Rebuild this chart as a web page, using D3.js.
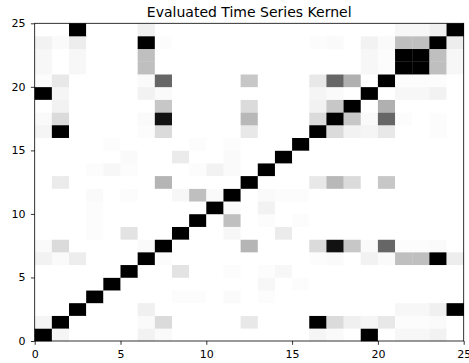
<!DOCTYPE html>
<html>
<head>
<meta charset="utf-8">
<script src="https://cdn.jsdelivr.net/npm/d3@7"></script>
<style>
  html, body { margin: 0; padding: 0; background: #fff; }
  svg { display: block; }
  text { font-family: "DejaVu Sans", sans-serif; fill: #000; }
</style>
</head>
<body>
<svg id="chart" width="469" height="363"></svg>
<script>
// Kernel matrix: kernelRows[i][j] is the kernel value between series i and j.
// Row index i runs along the y axis (0 at the bottom), column j along x.
const kernelRows = [
  /* 0 */ [1,0.04,0,0,0,0,0.05,0.02,0,0,0,0,0,0,0,0,0.04,0.02,0,1,0,0.03,0.03,0.05,0],
  /* 1 */ [0.04,1,0,0,0,0,0.02,0.14,0,0,0,0,0.09,0,0,0,1,0.14,0.06,0.04,0.09,0.01,0.01,0.02,0],
  /* 2 */ [0,0,1,0,0,0,0.06,0,0,0,0,0,0,0,0,0,0,0,0,0,0,0.03,0.03,0.06,1],
  /* 3 */ [0,0,0,1,0,0,0,0,0.01,0.01,0,0.02,0,0.01,0,0,0,0,0,0,0,0,0,0,0],
  /* 4 */ [0,0,0,0,1,0,0,0,0,0,0,0,0,0.03,0,0.01,0,0,0,0,0,0,0,0,0],
  /* 5 */ [0,0,0,0,0,1,0,0,0.11,0,0,0.01,0,0.01,0.03,0,0,0,0,0,0,0,0,0,0],
  /* 6 */ [0.05,0.02,0.07,0,0,0,1,0.01,0,0,0,0,0,0,0,0,0.01,0.02,0,0.05,0.02,0.25,0.25,1,0.07],
  /* 7 */ [0.02,0.14,0,0,0,0,0.02,1,0,0,0,0,0.29,0,0,0,0.14,0.93,0.22,0.02,0.6,0.01,0.01,0.02,0],
  /* 8 */ [0,0,0,0.01,0,0.11,0,0,1,0,0,0.03,0,0,0.08,0,0,0,0,0,0,0,0,0,0],
  /* 9 */ [0,0,0,0.01,0,0,0,0,0,1,0,0.25,0,0.01,0,0.01,0,0,0,0,0,0,0,0,0],
  /*10 */ [0,0,0,0.01,0,0,0,0,0,0,1,0.02,0,0.05,0,0,0,0,0,0,0,0,0,0,0],
  /*11 */ [0,0,0,0.02,0,0.01,0,0,0.03,0.25,0.02,1,0,0.02,0.01,0.01,0,0,0,0,0,0,0,0,0],
  /*12 */ [0,0.08,0,0,0,0,0,0.29,0,0,0,0,1,0,0,0,0.09,0.28,0.14,0,0.22,0,0,0,0],
  /*13 */ [0,0,0,0.01,0.03,0.01,0,0,0,0.01,0.05,0.02,0,1,0,0,0,0,0,0,0,0,0,0,0],
  /*14 */ [0,0,0,0,0,0.02,0,0,0.08,0,0,0.02,0,0,1,0,0,0,0,0,0,0,0,0,0],
  /*15 */ [0,0,0,0,0.01,0,0,0,0,0.01,0,0.01,0,0,0,1,0,0,0,0,0,0,0,0,0],
  /*16 */ [0.04,1,0,0,0,0,0.01,0.14,0,0,0,0,0.09,0,0,0,1,0.14,0.05,0.04,0.09,0,0,0.01,0],
  /*17 */ [0.02,0.14,0,0,0,0,0.02,0.93,0,0,0,0,0.28,0,0,0,0.14,1,0.22,0.02,0.6,0.01,0,0.01,0],
  /*18 */ [0,0.05,0,0,0,0,0,0.22,0,0,0,0,0.14,0,0,0,0.05,0.22,1,0,0.31,0,0,0,0],
  /*19 */ [1,0.04,0,0,0,0,0.05,0.02,0,0,0,0,0,0,0,0,0.04,0.02,0,1,0,0.03,0.03,0.05,0],
  /*20 */ [0.01,0.09,0,0,0,0,0.02,0.6,0,0,0,0,0.22,0,0,0,0.09,0.6,0.31,0,1,0.01,0.01,0.01,0],
  /*21 */ [0.03,0,0.03,0,0,0,0.25,0,0,0,0,0,0,0,0,0,0,0,0,0.03,0.01,1,1,0.25,0.03],
  /*22 */ [0.03,0,0.03,0,0,0,0.25,0,0,0,0,0,0,0,0,0,0,0,0,0.03,0.01,1,1,0.25,0.03],
  /*23 */ [0.05,0.02,0.07,0,0,0,1,0.01,0,0,0,0,0,0,0,0,0.01,0.02,0,0.05,0.02,0.25,0.25,1,0.07],
  /*24 */ [0,0,1,0,0,0,0.06,0,0,0,0,0,0,0,0,0,0,0,0,0,0,0.03,0.03,0.06,1]
];

const xTicks = [0, 5, 10, 15, 20, 25];
const yTicks = [0, 5, 10, 15, 20, 25];
const chartTitle = "Evaluated Time Series Kernel";

const svg = d3.select("#chart");
const margin = { left: 34.7, right: 5.3, top: 23.3, bottom: 22 };
const W = 469, H = 363;

const n = kernelRows.length;
const x = d3.scaleLinear().domain([0, n]).range([margin.left, W - margin.right]);
const y = d3.scaleLinear().domain([0, n]).range([H - margin.bottom, margin.top]);
const color = d3.scaleLinear().domain([0, 1]).range(["#ffffff", "#000000"]).clamp(true);

const cells = [];
kernelRows.forEach((row, i) => row.forEach((v, j) => cells.push({ i, j, v })));

svg.append("g")
  .selectAll("rect")
  .data(cells)
  .join("rect")
  .attr("x", d => x(d.j))
  .attr("y", d => y(d.i + 1))
  .attr("width", d => x(d.j + 1) - x(d.j) + 0.3)
  .attr("height", d => y(d.i) - y(d.i + 1) + 0.3)
  .attr("fill", d => color(d.v));

// Frame around the image
svg.append("rect")
  .attr("x", x(0)).attr("y", y(n))
  .attr("width", x(n) - x(0)).attr("height", y(0) - y(n))
  .attr("fill", "none").attr("stroke", "#000").attr("stroke-width", 0.8);

const xAxis = svg.append("g")
  .attr("transform", `translate(0,${y(0)})`)
  .call(d3.axisBottom(x).tickValues(xTicks).tickFormat(d3.format("d")).tickSize(3.8).tickPadding(5));
const yAxis = svg.append("g")
  .attr("transform", `translate(${x(0)},0)`)
  .call(d3.axisLeft(y).tickValues(yTicks).tickFormat(d3.format("d")).tickSize(3.8).tickPadding(5.5));

[xAxis, yAxis].forEach(g => {
  g.select(".domain").remove();
  g.selectAll(".tick line").attr("stroke", "#000").attr("stroke-width", 0.8);
  g.selectAll(".tick text").attr("font-family", "DejaVu Sans, sans-serif").attr("font-size", 11).attr("fill", "#000");
});

svg.append("text")
  .attr("x", (x(0) + x(n)) / 2)
  .attr("y", 16.7)
  .attr("text-anchor", "middle")
  .attr("font-size", 14)
  .text(chartTitle);
</script>
</body>
</html>
